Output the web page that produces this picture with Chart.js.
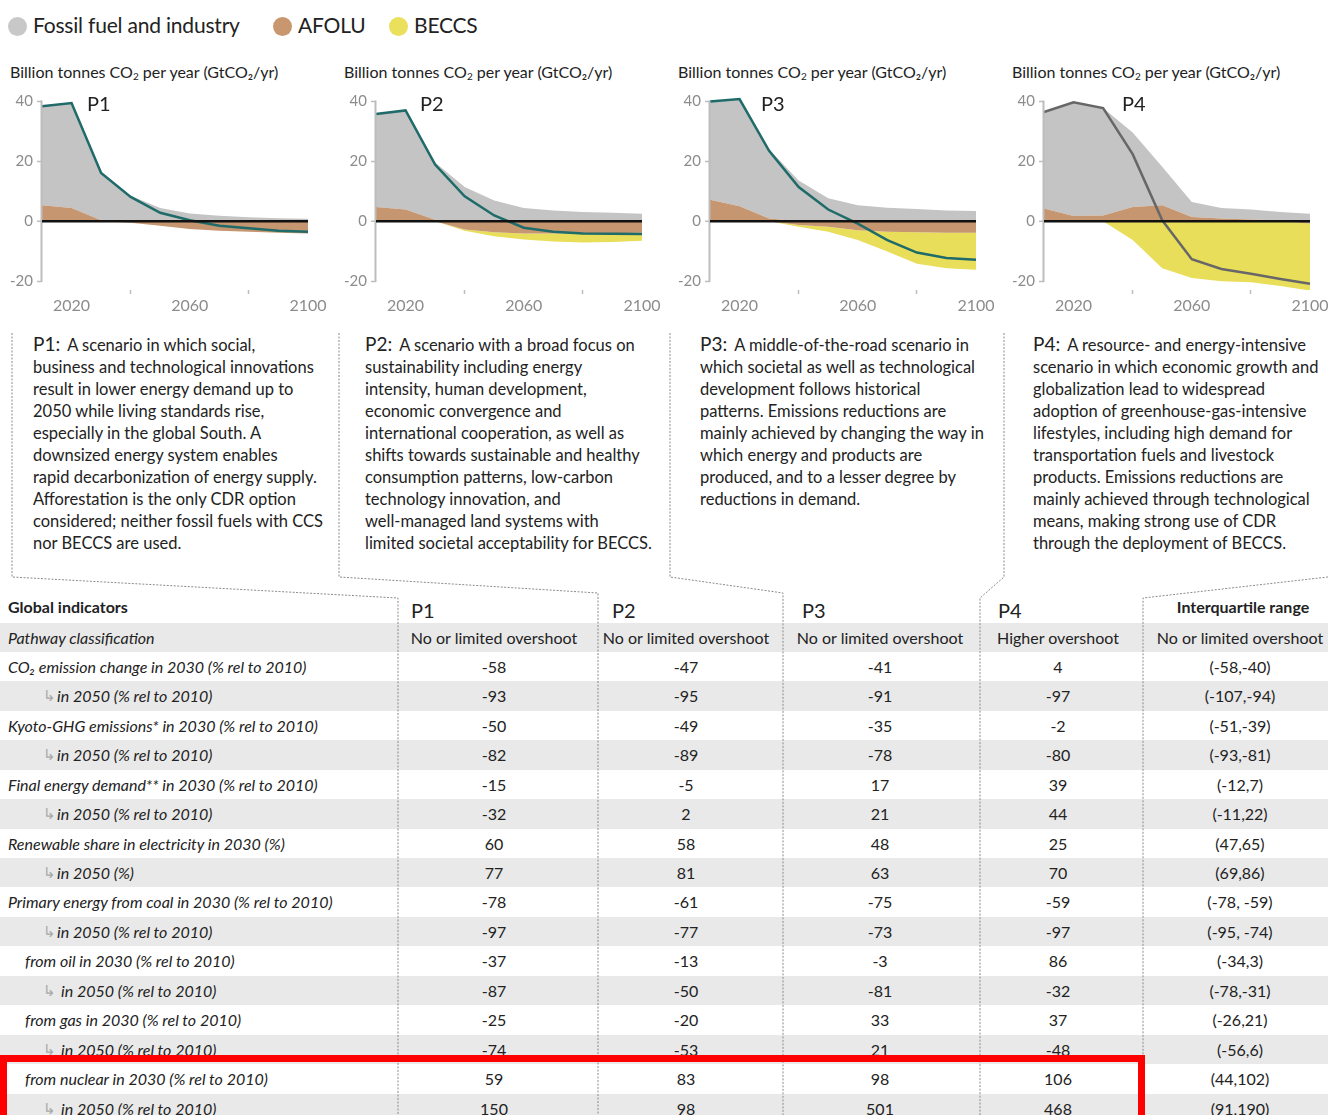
<!DOCTYPE html>
<html>
<head>
<meta charset="utf-8">
<script src="https://cdn.jsdelivr.net/npm/chart.js@4.4.1/dist/chart.umd.min.js"></script>
<style>
html, body { margin: 0; padding: 0; }
body { width: 1328px; height: 1115px; overflow: hidden; position: relative; background: #fff;
       font-family: Lato, "Noto Sans", sans-serif; color: #222; }
.abs { position: absolute; white-space: nowrap; }
.leg { position: absolute; top: 11px; font-size: 21px; line-height: 28px; letter-spacing: -0.2px; }
.leg i { display: inline-block; width: 19px; height: 19px; border-radius: 50%; vertical-align: -3px; margin-right: 6px; }
.unit { position: absolute; top: 62px; font-size: 16px; }
.unit sub { font-size: 10px; vertical-align: -2px; }
.plab { position: absolute; top: 91px; font-size: 20px; }
.desc { position: absolute; top: 333px; font-size: 16.5px; line-height: 22px; }
.desc b { font-weight: normal; font-size: 19px; margin-right: 7px; }
.row { position: absolute; left: 0; width: 1328px; }
.row.g { background: #e9e9e9; }
.cell { position: absolute; top: 0; font-size: 16px; white-space: nowrap; }
.lbl { font-style: italic; }
.arr { color: #a8a8a8; font-style: normal; font-size: 15px; }
.val { transform: translateX(-50%); }
.hd { position: absolute; white-space: nowrap; }
canvas { position: absolute; }
</style>
</head>
<body>

<div class="leg" style="left:8px"><i style="background:#c8c8c8"></i>Fossil fuel and industry</div>
<div class="leg" style="left:273px"><i style="background:#c8976f"></i>AFOLU</div>
<div class="leg" style="left:389px"><i style="background:#ebe05c"></i>BECCS</div>

<div id="panelBox"></div>
<div id="table"></div>

<svg class="abs" style="left:0;top:0" width="1328" height="1115">
  <g fill="none" stroke="#8a8a8a" stroke-width="1" stroke-dasharray="2 1.5">
    <polyline points="12,333 12,577 398,598 398,1115"/>
    <polyline points="339,333 339,577 598,593 598,1115"/>
    <polyline points="670,333 670,577 783,593 783,1115"/>
    <polyline points="1004,333 1004,577 980,598 980,1115"/>
    <polyline points="1328,577 1143,598 1143,1115"/>
  </g>
</svg>

<div class="abs" style="left:0;top:1055px;width:1145px;height:100px;border:7px solid #ff0000;box-sizing:border-box"></div>

<script>
const years = [2010, 2020, 2030, 2040, 2050, 2060, 2070, 2080, 2090, 2100];
const xTickYears = [2020, 2040, 2060, 2080, 2100];
const xLabelYears = [2020, 2060, 2100];
const yTicks = [-20, 0, 20, 40];

// GtCO2/yr
const p1Fossil = [33.1, 35.1, 16.0, 8.5, 4.4, 2.6, 1.8, 1.3, 1.0, 0.8];
const p1Afolu  = [5.3, 4.4, 0.3, -0.5, -1.5, -2.6, -3.2, -3.5, -3.9, -4.1];
const p1Beccs  = [0, 0, 0, 0, 0, 0, 0, 0, 0, 0];
const p1Net    = [38.4, 39.5, 16.1, 8.1, 2.8, 0.3, -1.5, -2.4, -3.2, -3.5];

const p2Fossil = [31.1, 33.1, 19.1, 11.4, 6.9, 4.4, 3.6, 3.1, 2.8, 2.5];
const p2Afolu  = [4.7, 3.9, 0.5, -2.8, -3.7, -4.1, -4.1, -4.1, -4.0, -3.9];
const p2Beccs  = [0, 0, 0, -0.4, -1.3, -2.0, -2.7, -3.0, -3.0, -2.6];
const p2Net    = [35.8, 37.0, 18.9, 8.3, 1.9, -2.2, -3.5, -4.1, -4.2, -4.3];

const p3Fossil = [32.8, 35.8, 23.1, 13.6, 7.7, 5.3, 4.5, 4.1, 3.6, 3.4];
const p3Afolu  = [7.2, 5.0, 0.9, -1.3, -1.9, -3.0, -3.5, -3.7, -3.9, -3.9];
const p3Beccs  = [0, 0, 0, -0.6, -1.6, -3.3, -6.6, -10.5, -11.8, -12.3];
const p3Net    = [40.0, 40.8, 23.5, 11.4, 3.9, -0.8, -6.3, -10.5, -12.3, -12.9];

const p4Fossil = [32.3, 38.0, 35.9, 24.9, 12.9, 5.0, 3.5, 3.3, 2.8, 2.5];
const p4Afolu  = [4.2, 1.7, 1.9, 4.7, 5.3, 1.4, 0.9, 0.6, 0.3, -0.8];
const p4Beccs  = [0, 0, 0, -6.3, -15.7, -19.0, -20.1, -20.4, -21.7, -22.4];
const p4Net    = [36.5, 39.7, 37.8, 22.4, 0.3, -12.7, -16.0, -17.6, -19.3, -20.9];

const GRAY = '#c4c4c4', BROWN = '#c59670', YELLOW = '#e9de5a';

const panels = [
  { name: 'P1', fossil: p1Fossil, afolu: p1Afolu, beccs: p1Beccs, net: p1Net, line: '#1e6b69', left: 0, lab: 87 },
  { name: 'P2', fossil: p2Fossil, afolu: p2Afolu, beccs: p2Beccs, net: p2Net, line: '#1e6b69', left: 334, lab: 420 },
  { name: 'P3', fossil: p3Fossil, afolu: p3Afolu, beccs: p3Beccs, net: p3Net, line: '#1e6b69', left: 668, lab: 761 },
  { name: 'P4', fossil: p4Fossil, afolu: p4Afolu, beccs: p4Beccs, net: p4Net, line: '#676767', left: 1002, lab: 1122 }
];

const descriptions = [
  ['A scenario in which social,', 'business and technological innovations', 'result in lower energy demand up to',
   '2050 while living standards rise,', 'especially in the global South. A', 'downsized energy system enables',
   'rapid decarbonization of energy supply.', 'Afforestation is the only CDR option',
   'considered; neither fossil fuels with CCS', 'nor BECCS are used.'],
  ['A scenario with a broad focus on', 'sustainability including energy', 'intensity, human development,',
   'economic convergence and', 'international cooperation, as well as', 'shifts towards sustainable and healthy',
   'consumption patterns, low-carbon', 'technology innovation, and', 'well-managed land systems with',
   'limited societal acceptability for BECCS.'],
  ['A middle-of-the-road scenario in', 'which societal as well as technological', 'development follows historical',
   'patterns. Emissions reductions are', 'mainly achieved by changing the way in', 'which energy and products are',
   'produced, and to a lesser degree by', 'reductions in demand.'],
  ['A resource- and energy-intensive', 'scenario in which economic growth and', 'globalization lead to widespread',
   'adoption of greenhouse-gas-intensive', 'lifestyles, including high demand for', 'transportation fuels and livestock',
   'products. Emissions reductions are', 'mainly achieved through technological', 'means, making strong use of CDR',
   'through the deployment of BECCS.']
];
const descLeft = [33, 365, 700, 1033];

const columnHeads = ['P1', 'P2', 'P3', 'P4'];
const tableRows = [
  ['Pathway classification', 'main', 'No or limited overshoot', 'No or limited overshoot', 'No or limited overshoot', 'Higher overshoot', 'No or limited overshoot'],
  ['CO₂ emission change in 2030 (% rel to 2010)', 'main', '-58', '-47', '-41', '4', '(-58,-40)'],
  ['in 2050 (% rel to 2010)', 'sub', '-93', '-95', '-91', '-97', '(-107,-94)'],
  ['Kyoto-GHG emissions* in 2030 (% rel to 2010)', 'main', '-50', '-49', '-35', '-2', '(-51,-39)'],
  ['in 2050 (% rel to 2010)', 'sub', '-82', '-89', '-78', '-80', '(-93,-81)'],
  ['Final energy demand** in 2030 (% rel to 2010)', 'main', '-15', '-5', '17', '39', '(-12,7)'],
  ['in 2050 (% rel to 2010)', 'sub', '-32', '2', '21', '44', '(-11,22)'],
  ['Renewable share in electricity in 2030 (%)', 'main', '60', '58', '48', '25', '(47,65)'],
  ['in 2050 (%)', 'sub', '77', '81', '63', '70', '(69,86)'],
  ['Primary energy from coal in 2030 (% rel to 2010)', 'main', '-78', '-61', '-75', '-59', '(-78, -59)'],
  ['in 2050 (% rel to 2010)', 'sub', '-97', '-77', '-73', '-97', '(-95, -74)'],
  ['from oil in 2030  (% rel to 2010)', 'mid', '-37', '-13', '-3', '86', '(-34,3)'],
  ['in 2050  (% rel to 2010)', 'midsub', '-87', '-50', '-81', '-32', '(-78,-31)'],
  ['from gas in 2030  (% rel to 2010)', 'mid', '-25', '-20', '33', '37', '(-26,21)'],
  ['in 2050  (% rel to 2010)', 'midsub', '-74', '-53', '21', '-48', '(-56,6)'],
  ['from nuclear in 2030  (% rel to 2010)', 'mid', '59', '83', '98', '106', '(44,102)'],
  ['in 2050  (% rel to 2010)', 'midsub', '150', '98', '501', '468', '(91,190)']
];
const colCenters = [494, 686, 880, 1058, 1240];

const panelBox = document.getElementById('panelBox');

const yAxisLine = {
  id: 'yAxisLine',
  afterDatasetsDraw(chart) {
    const y = chart.scales.y, c = chart.ctx, x = chart.chartArea.left - 0.5;
    c.save();
    c.strokeStyle = '#bdbdbd';
    c.lineWidth = 2;
    c.beginPath();
    c.moveTo(x, y.getPixelForValue(yTicks[yTicks.length - 1]) - 1);
    c.lineTo(x, y.getPixelForValue(yTicks[0]) + 1);
    c.stroke();
    c.restore();
  }
};

const pts = arr => years.map((x, i) => ({ x: x, y: arr[i] }));

panels.forEach(p => {
  const unit = document.createElement('div');
  unit.className = 'unit';
  unit.style.left = (p.left + 10) + 'px';
  unit.innerHTML = 'Billion tonnes CO<sub>2</sub> per year (GtCO₂/yr)';
  panelBox.appendChild(unit);

  const canvas = document.createElement('canvas');
  canvas.width = 334;
  canvas.height = 236;
  canvas.style.left = p.left + 'px';
  canvas.style.top = '84px';
  panelBox.appendChild(canvas);

  const lab = document.createElement('div');
  lab.className = 'plab';
  lab.style.left = p.lab + 'px';
  lab.textContent = p.name;
  panelBox.appendChild(lab);

  const afoluTop = p.afolu.map(v => Math.max(v, 0));
  const fossilTop = p.fossil.map((v, i) => v + afoluTop[i]);
  const afoluBot = p.afolu.map(v => Math.min(v, 0));
  const beccsBot = p.beccs.map((v, i) => v + afoluBot[i]);

  const area = { borderWidth: 0, pointRadius: 0, tension: 0 };

  new Chart(canvas, {
    type: 'line',
    data: {
      datasets: [
        { data: pts(p.net), borderColor: p.line, borderWidth: 2.5, fill: false, pointRadius: 0, tension: 0, clip: 4 },
        Object.assign({ data: pts(afoluTop), backgroundColor: BROWN, fill: 'origin' }, area),
        Object.assign({ data: pts(fossilTop), backgroundColor: GRAY, fill: 1 }, area),
        Object.assign({ data: pts(afoluBot), backgroundColor: BROWN, fill: 'origin' }, area),
        Object.assign({ data: pts(beccsBot), backgroundColor: YELLOW, fill: 3 }, area)
      ]
    },
    options: {
      responsive: false,
      animation: false,
      layout: { padding: { top: 12, right: 26, left: 0, bottom: 0 } },
      plugins: { legend: { display: false }, tooltip: { enabled: false } },
      scales: {
        x: {
          type: 'linear', min: 2010, max: 2100,
          afterBuildTicks: s => { s.ticks = xTickYears.map(v => ({ value: v })); },
          afterFit: s => { s.height = 30; },
          ticks: {
            callback: v => xLabelYears.includes(v) ? String(v) : '',
            color: '#8c8c8c', font: { family: 'Lato', size: 16 }, padding: 2,
            maxRotation: 0, autoSkip: false
          },
          grid: {
            drawOnChartArea: false, drawTicks: true, tickLength: 4, tickWidth: 1.5,
            tickColor: ctx => (ctx.tick && xLabelYears.includes(ctx.tick.value)) ? 'rgba(0,0,0,0)' : '#bdbdbd'
          },
          border: { display: false }
        },
        y: {
          min: -23, max: 41.5,
          afterBuildTicks: s => { s.ticks = yTicks.map(v => ({ value: v })); },
          afterFit: s => { s.width = 42; },
          ticks: { color: '#8c8c8c', font: { family: 'Lato', size: 15 }, padding: 4 },
          grid: {
            z: 1, drawTicks: true, tickLength: 5, tickWidth: 1.5, tickColor: '#bdbdbd',
            color: ctx => (ctx.tick && ctx.tick.value === 0) ? '#111' : 'rgba(0,0,0,0)',
            lineWidth: ctx => (ctx.tick && ctx.tick.value === 0) ? 2.5 : 1
          },
          border: { display: false }
        }
      }
    },
    plugins: [yAxisLine]
  });
});

descriptions.forEach((lines, i) => {
  const d = document.createElement('div');
  d.className = 'desc';
  d.style.left = descLeft[i] + 'px';
  d.innerHTML = '<b>' + columnHeads[i] + ':</b>' + lines.join('<br>');
  panelBox.appendChild(d);
});

// table
const table = document.getElementById('table');
const rowTop = 622.5, rowH = 29.44;

const hd = (html, left, topY, css) => {
  const e = document.createElement('div');
  e.className = 'hd';
  e.style.cssText = css;
  e.style.left = left + 'px';
  e.style.top = topY + 'px';
  e.innerHTML = html;
  table.appendChild(e);
};
hd('Global indicators', 8, 597, 'font-size:16px;font-weight:bold');
[411, 612, 802, 998].forEach((x, i) => hd(columnHeads[i], x, 598, 'font-size:20px'));
hd('Interquartile range', 1243, 597, 'font-size:16px;font-weight:bold;transform:translateX(-50%)');

tableRows.forEach((r, i) => {
  const row = document.createElement('div');
  row.className = 'row' + (i % 2 === 0 ? ' g' : '');
  row.style.top = (rowTop + i * rowH) + 'px';
  row.style.height = rowH + 'px';
  row.style.lineHeight = rowH + 'px';

  const kind = r[1];
  let lbl;
  if (kind === 'main') lbl = '<span class="cell lbl" style="left:8px">' + r[0] + '</span>';
  else if (kind === 'mid') lbl = '<span class="cell lbl" style="left:25px">' + r[0] + '</span>';
  else if (kind === 'sub') lbl = '<span class="cell arr" style="left:43px">↳</span><span class="cell lbl" style="left:57px">' + r[0] + '</span>';
  else lbl = '<span class="cell arr" style="left:43px">↳</span><span class="cell lbl" style="left:61px">' + r[0] + '</span>';

  let vals = '';
  for (let k = 0; k < 5; k++) {
    vals += '<span class="cell val" style="left:' + colCenters[k] + 'px">' + r[k + 2] + '</span>';
  }
  row.innerHTML = lbl + vals;
  table.appendChild(row);
});
</script>
</body>
</html>
